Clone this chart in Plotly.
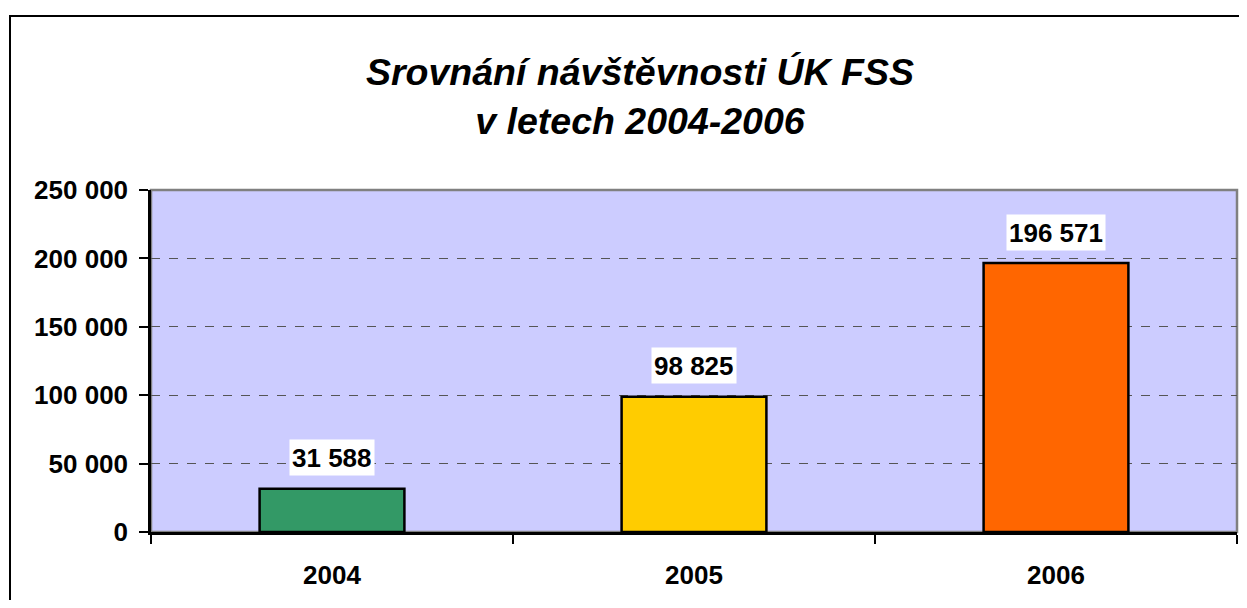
import plotly.graph_objects as go

years = ["2004", "2005", "2006"]
visits = [31588, 98825, 196571]
bar_colors = ["#339966", "#FFCC00", "#FF6600"]
y_ticks = [0, 50000, 100000, 150000, 200000, 250000]

# the page puts the plot 8px in from each edge, keep it inside the window
OFF = 8
W, H = 1247 - 2 * OFF, 608 - 2 * OFF
L, R, T = 151 - OFF, 2, 190 - OFF
B = H - (532 - OFF)
pw, ph = W - L - R, H - T - B

fig = go.Figure()
fig.add_trace(go.Bar(
    x=years, y=visits,
    marker=dict(color=bar_colors, line=dict(color="black", width=2.5)),
    width=0.4, hoverinfo="skip",
))

# data labels with white box (x as category index)
for i, v in enumerate(visits):
    fig.add_annotation(
        x=i, y=v, text="{:,}".format(v).replace(",", " "),
        showarrow=False, yanchor="middle", yshift=31,
        bgcolor="white", borderpad=2, height=31,
        font=dict(family="Liberation Sans, Arial", size=26, color="black", weight="bold"),
    )

# plot-area border (grey)
fig.add_shape(type="rect", xref="paper", yref="paper", x0=0, x1=1, y0=0, y1=1,
              line=dict(color="#808080", width=2.5), layer="below")
# outer chart frame
fig.add_shape(type="rect", xref="paper", yref="paper",
              x0=(10 - OFF - L) / pw, x1=(W + 30 - L) / pw,
              y0=-(H + 30 - T - ph) / ph, y1=(H - (16 - OFF) - B) / ph,
              line=dict(color="black", width=2))

fig.update_layout(
    width=W, height=H,
    margin=dict(l=L, r=R, t=T, b=B, autoexpand=False),
    paper_bgcolor="white", plot_bgcolor="#CCCCFF",
    separators=". ",
    showlegend=False,
    title=dict(
        text="<b><i>Srovnání návštěvnosti ÚK FSS<br>v letech 2004-2006</i></b>",
        x=(640 - OFF) / W, xanchor="center", y=1 - 77 / H, yanchor="middle",
        font=dict(family="Liberation Sans, Arial", size=37.5, color="black"),
    ),
    font=dict(family="Liberation Sans, Arial", color="black"),
)
fig.update_xaxes(
    type="category",
    showline=True, linecolor="black", linewidth=2.5,
    ticks="outside", tickson="boundaries", ticklen=9, tickcolor="black", tickwidth=1.5,
    tickfont=dict(size=26, weight="bold"), ticklabelstandoff=18, showgrid=False,
)
fig.update_yaxes(
    range=[0, 250000], tickvals=y_ticks, tickformat=",d",
    showline=True, linecolor="black", linewidth=2.5,
    ticks="outside", ticklen=9, tickcolor="black", tickwidth=1.5,
    tickfont=dict(size=26, weight="bold"), ticklabelstandoff=6,
    showgrid=True, gridcolor="#555555", griddash="dash", gridwidth=1.2,
    zeroline=False,
)

fig.write_html("out.html")
